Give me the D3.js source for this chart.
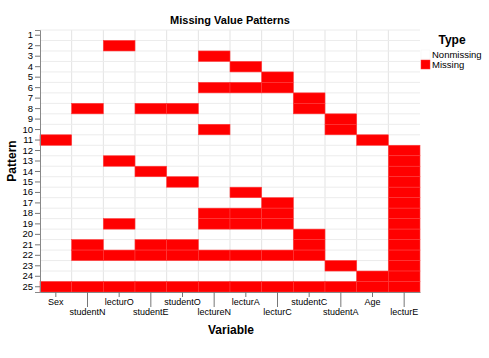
<!DOCTYPE html>
<html><head><meta charset="utf-8">
<script src="https://cdn.jsdelivr.net/npm/d3@7"></script>
<style>body{margin:0;background:#fff}svg{display:block}text{font-family:"Liberation Sans",Arial,sans-serif;fill:#000}</style>
</head><body>
<script>
const variables = ["Sex","studentN","lecturO","studentE","studentO","lectureN","lecturA","lecturC","studentC","studentA","Age","lecturE"];
const patterns = d3.range(1, 26).map(String);
// missing variables for each pattern (1..25)
const missingByPattern = [
  [],
  ["lecturO"],
  ["lectureN"],
  ["lecturA"],
  ["lecturC"],
  ["lectureN","lecturA","lecturC"],
  ["studentC"],
  ["studentN","studentE","studentO","studentC"],
  ["studentA"],
  ["lectureN","studentA"],
  ["Sex","Age"],
  ["lecturE"],
  ["lecturO","lecturE"],
  ["studentE","lecturE"],
  ["studentO","lecturE"],
  ["lecturA","lecturE"],
  ["lecturC","lecturE"],
  ["lectureN","lecturA","lecturC","lecturE"],
  ["lecturO","lectureN","lecturA","lecturC","lecturE"],
  ["studentC","lecturE"],
  ["studentN","studentE","studentO","studentC","lecturE"],
  ["studentN","lecturO","studentE","studentO","lectureN","lecturA","lecturC","studentC","lecturE"],
  ["studentA","lecturE"],
  ["Age","lecturE"],
  ["Sex","studentN","lecturO","studentE","studentO","lectureN","lecturA","lecturC","studentC","studentA","Age","lecturE"]
];
const types = ["Nonmissing","Missing"];
const typeColors = ["#ffffff","#ff0000"];

const W = 489, H = 358;
const m = {l:40, r:420, t:30, b:292};
const svg = d3.select("body").append("svg").attr("width", W).attr("height", H);

const x = d3.scaleBand().domain(variables).range([m.l, m.r]);
const y = d3.scaleBand().domain(patterns).range([m.t, m.b]);
const color = d3.scaleOrdinal().domain(types).range(typeColors);

const cells = [];
patterns.forEach((p, i) => variables.forEach(v => cells.push({p, v, t: missingByPattern[i].includes(v) ? "Missing" : "Nonmissing"})));

// grid
const g = svg.append("g");
g.selectAll(".vg").data(variables.slice(1)).join("line")
  .attr("x1", d => x(d)).attr("x2", d => x(d)).attr("y1", m.t).attr("y2", m.b)
  .attr("stroke", "#e3e3e3").attr("stroke-width", 1);
g.selectAll(".hg").data(patterns).join("line")
  .attr("x1", m.l).attr("x2", m.r).attr("y1", d => y(d)).attr("y2", d => y(d))
  .attr("stroke", "#ececec").attr("stroke-width", 1);

// cells
svg.append("g").selectAll("rect").data(cells.filter(c => c.t === "Missing")).join("rect")
  .attr("x", d => x(d.v)).attr("y", d => y(d.p))
  .attr("width", x.bandwidth()).attr("height", y.bandwidth())
  .attr("fill", d => color(d.t)).attr("stroke", "#ff3a3a").attr("stroke-width", 0.6);

// y axis
const ya = svg.append("g").attr("transform", `translate(${m.l},0)`)
  .call(d3.axisLeft(y).tickSize(5).tickPadding(2));
ya.select(".domain").attr("stroke", "#888");
ya.selectAll(".tick line").attr("stroke", "#777");
ya.selectAll("text").attr("font-size", 9.5).style("font-family", '"Liberation Sans",Arial,sans-serif').attr("fill", "#000");

// x axis
const xa = svg.append("g").attr("transform", `translate(0,${m.b})`)
  .call(d3.axisBottom(x).tickSize(0));
xa.select(".domain").attr("stroke", "#888");
xa.selectAll(".tick line").attr("y2", (d, i) => i % 2 ? 15 : 5).attr("stroke", "#777");
xa.selectAll(".tick text").attr("font-size", 9).style("font-family", '"Liberation Sans",Arial,sans-serif').attr("fill", "#000")
  .attr("y", (d, i) => i % 2 ? 17 : 7).attr("dy", "0.71em");

// titles
svg.append("text").attr("x", (m.l + m.r) / 2).attr("y", 24).attr("text-anchor", "middle")
  .attr("font-size", 11).attr("font-weight", "bold").text("Missing Value Patterns");
svg.append("text").attr("x", (m.l + m.r) / 2 + 1).attr("y", 334).attr("text-anchor", "middle")
  .attr("font-size", 12).attr("font-weight", "bold").text("Variable");
svg.append("text").attr("transform", `translate(16,${(m.t + m.b) / 2}) rotate(-90)`).attr("text-anchor", "middle")
  .attr("font-size", 12).attr("font-weight", "bold").text("Pattern");

// legend
const lg = svg.append("g");
lg.append("text").attr("x", 452).attr("y", 44).attr("text-anchor", "middle")
  .attr("font-size", 12).attr("font-weight", "bold").text("Type");
const li = lg.selectAll(".li").data(types).join("g").attr("transform", (d, i) => `translate(421,${50 + i * 10})`);
li.append("rect").attr("width", 9).attr("height", 9).attr("fill", d => color(d))
  .attr("stroke", d => d === "Missing" ? "#ff3a3a" : "#f2f2f2").attr("stroke-width", 0.5);
li.append("text").attr("x", 11).attr("y", 8).attr("font-size", 9.5).text(d => d);
</script>
</body></html>
